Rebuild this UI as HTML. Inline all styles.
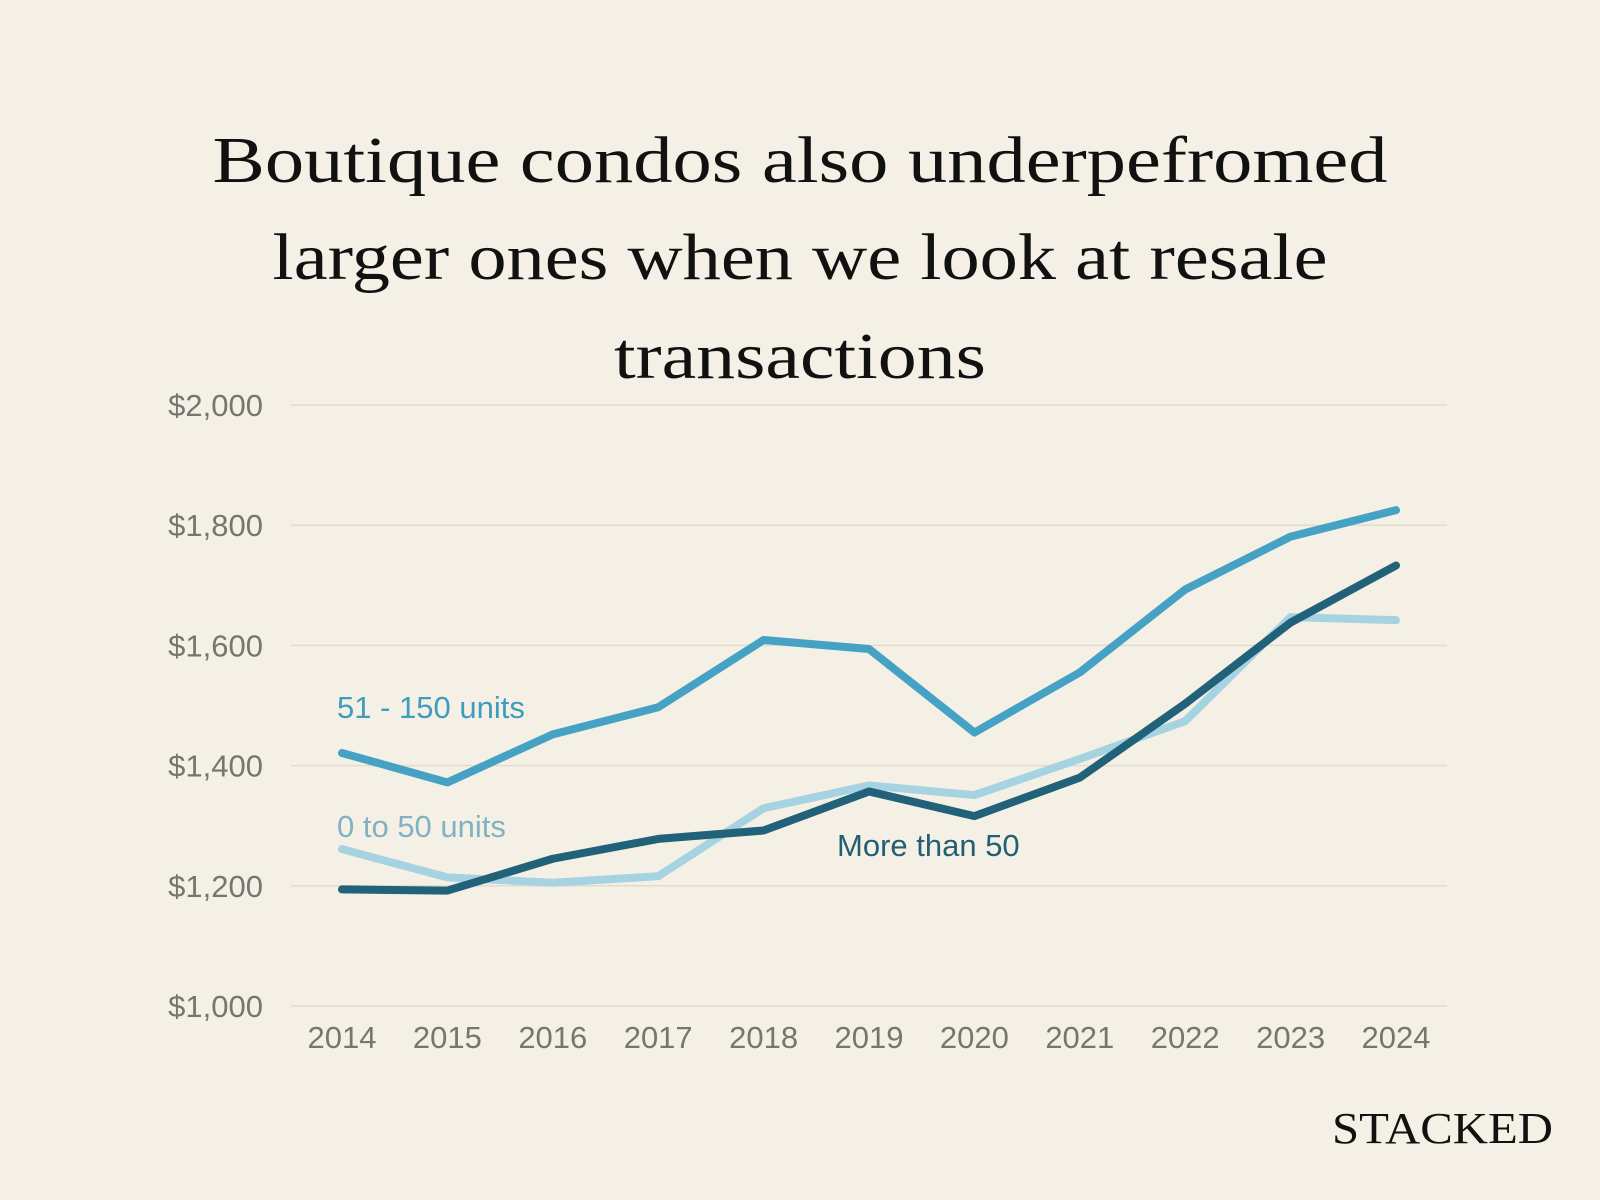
<!DOCTYPE html>
<html><head><meta charset="utf-8"><style>
html,body{margin:0;padding:0;background:#f5f0e5;}
svg{display:block;}
</style></head><body>
<svg id="chart" width="1600" height="1200" viewBox="0 0 1600 1200" xmlns="http://www.w3.org/2000/svg">
<rect width="1600" height="1200" fill="#f5f0e5"/>
<g font-family="'Liberation Serif', serif" font-size="66" fill="#111" text-anchor="middle">
<text x="800" y="182" textLength="1175" lengthAdjust="spacingAndGlyphs">Boutique condos also underpefromed</text>
<text x="800" y="279" textLength="1055" lengthAdjust="spacingAndGlyphs">larger ones when we look at resale</text>
<text x="800" y="378" textLength="372" lengthAdjust="spacingAndGlyphs">transactions</text>
</g>
<g id="grid"></g>
<g id="yticks"></g>
<g id="xticks"></g>
<g id="series"></g>
<text x="337" y="718" font-family="'Liberation Sans', sans-serif" font-size="31" fill="#3f9cbd">51 - 150 units</text>
<text x="337" y="837" font-family="'Liberation Sans', sans-serif" font-size="31" fill="#80b2c2">0 to 50 units</text>
<text x="837" y="856" font-family="'Liberation Sans', sans-serif" font-size="31" fill="#235f74">More than 50</text>
<text x="1553" y="1143" text-anchor="end" textLength="221" lengthAdjust="spacingAndGlyphs" font-family="'Liberation Serif', serif" font-size="44" fill="#111">STACKED</text>
</svg>
<script>
const years = ["2014","2015","2016","2017","2018","2019","2020","2021","2022","2023","2024"];
const units51to150 = [1421,1372,1452,1497,1609,1594,1455,1555,1693,1781,1825];
const units0to50 = [1261,1214,1205,1216,1329,1367,1351,1411,1474,1647,1642];
const moreThan50 = [1194,1192,1245,1278,1292,1357,1316,1380,1503,1638,1733];
const yTicks = [1000,1200,1400,1600,1800,2000];
const yTickLabels = ["$1,000","$1,200","$1,400","$1,600","$1,800","$2,000"];

const NS = "http://www.w3.org/2000/svg";
const plotL = 291, plotR = 1447, yTop = 405, yBot = 1006;
const xFirst = 342, xLast = 1396;
function xScale(i){ return xFirst + (xLast - xFirst) * i / (years.length - 1); }
function yScale(v){ return yBot - (v - 1000) / 1000 * (yBot - yTop); }

const grid = document.getElementById('grid');
const yt = document.getElementById('yticks');
yTicks.forEach((v, i) => {
  const l = document.createElementNS(NS, 'line');
  l.setAttribute('x1', plotL); l.setAttribute('x2', plotR);
  l.setAttribute('y1', yScale(v)); l.setAttribute('y2', yScale(v));
  l.setAttribute('stroke', '#e2dccf'); l.setAttribute('stroke-width', '1.5');
  
  
  grid.appendChild(l);
  const t = document.createElementNS(NS, 'text');
  t.setAttribute('x', 263); t.setAttribute('y', yScale(v) + 11);
  t.setAttribute('text-anchor', 'end');
  t.setAttribute('font-family', "'Liberation Sans', sans-serif");
  t.setAttribute('font-size', '31'); t.setAttribute('fill', '#777570');
  t.textContent = yTickLabels[i];
  
  
  yt.appendChild(t);
});
const xt = document.getElementById('xticks');
years.forEach((y, i) => {
  const t = document.createElementNS(NS, 'text');
  t.setAttribute('x', xScale(i)); t.setAttribute('y', 1048);
  t.setAttribute('text-anchor', 'middle');
  t.setAttribute('font-family', "'Liberation Sans', sans-serif");
  t.setAttribute('font-size', '31'); t.setAttribute('fill', '#777570');
  t.textContent = y;
  
  
  xt.appendChild(t);
});
const sg = document.getElementById('series');
function drawLine(vals, color, name){
  const p = document.createElementNS(NS, 'polyline');
  p.setAttribute('points', vals.map((v, i) => xScale(i) + ',' + yScale(v)).join(' '));
  p.setAttribute('fill', 'none'); p.setAttribute('stroke', color);
  p.setAttribute('stroke-width', '8'); p.setAttribute('stroke-linecap', 'round');
  p.setAttribute('stroke-linejoin', 'round');
  
  
  sg.appendChild(p);
}
drawLine(units0to50, '#a6d3e2', 'line-0-to-50-units');
drawLine(units51to150, '#45a2c4', 'line-51-150-units');
drawLine(moreThan50, '#21617a', 'line-more-than-50');
</script>
</body></html>
